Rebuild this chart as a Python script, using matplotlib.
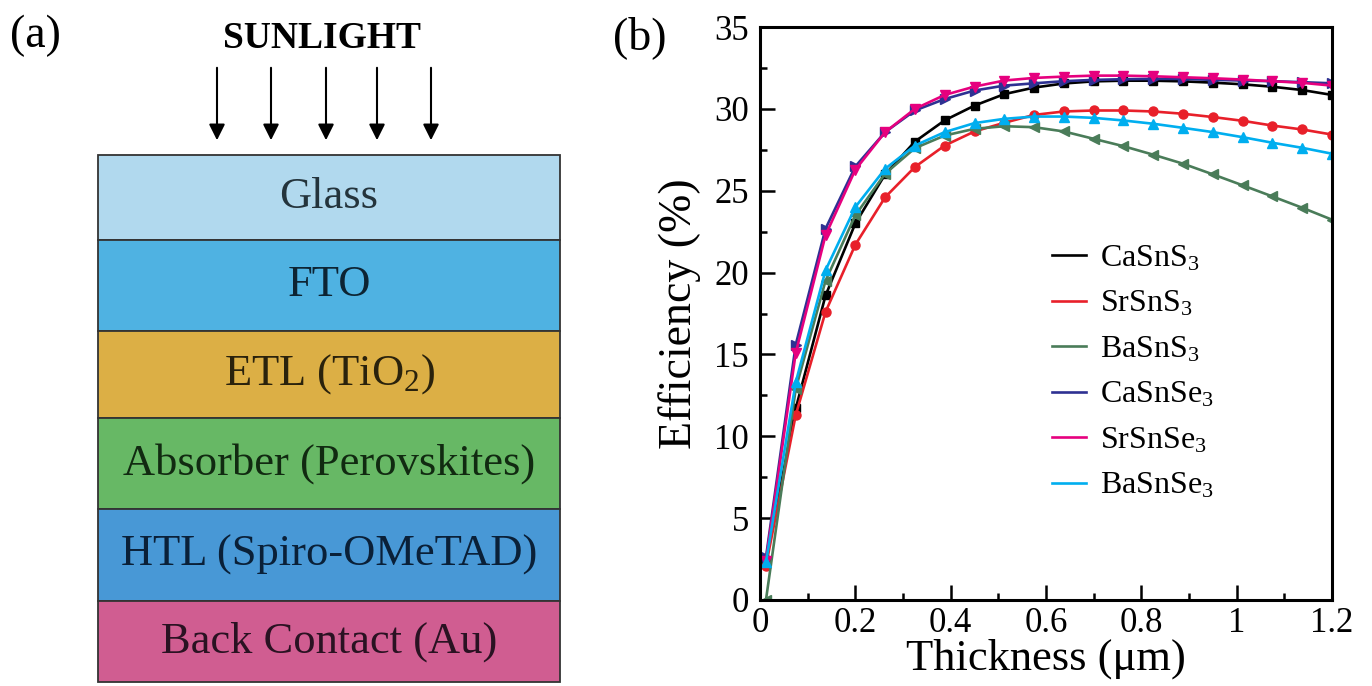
import matplotlib
matplotlib.use('Agg')
import matplotlib.pyplot as plt
from matplotlib.lines import Line2D
from matplotlib.patches import Rectangle

plt.rcParams['font.family'] = ['Liberation Serif', 'DejaVu Serif']
plt.rcParams['mathtext.fontset'] = 'custom'
plt.rcParams['mathtext.rm'] = 'Liberation Serif'
plt.rcParams['mathtext.it'] = 'Liberation Serif'

# --- panel (a): device stack ---
layer_names = ['Glass', 'FTO', r'ETL (TiO$_2$)', 'Absorber (Perovskites)',
               'HTL (Spiro-OMeTAD)', 'Back Contact (Au)']
layer_colors = ['#b1d9ee', '#4fb2e2', '#dcaf45', '#67b865', '#4898d6', '#d05d91']
layer_text_colors = ['#24343c', '#0d2433', '#2a220c', '#112a11', '#0a2038', '#2a1222']
layer_edges = [155, 240, 331, 418, 509, 601, 682]   # pixel rows
arrow_x = [217, 271, 326, 377, 431]

# --- panel (b): efficiency vs thickness ---
thickness = [0.0125, 0.075, 0.1375, 0.2, 0.2625, 0.325, 0.3875, 0.45, 0.5125, 0.575,
             0.6375, 0.7, 0.7625, 0.825, 0.8875, 0.95, 1.0125, 1.075, 1.1375, 1.2]
CaSnS3 = [2.4, 11.7, 18.6, 23.0, 26.0, 28.0, 29.3, 30.2, 30.9, 31.3,
          31.55, 31.68, 31.72, 31.72, 31.68, 31.6, 31.5, 31.35, 31.15, 30.85]
SrSnS3 = [2.1, 11.3, 17.6, 21.7, 24.6, 26.45, 27.76, 28.62, 29.15, 29.63,
          29.84, 29.9, 29.9, 29.84, 29.7, 29.5, 29.27, 28.98, 28.74, 28.43]
BaSnS3 = [0.0, 12.9, 19.5, 23.5, 26.04, 27.6, 28.37, 28.78, 28.94, 28.88,
          28.62, 28.17, 27.72, 27.2, 26.65, 26.0, 25.33, 24.65, 23.96, 23.23]
CaSnSe3 = [2.6, 15.6, 22.68, 26.48, 28.58, 29.9, 30.6, 31.12, 31.42, 31.56,
           31.69, 31.77, 31.81, 31.83, 31.83, 31.77, 31.73, 31.69, 31.63, 31.56]
SrSnSe3 = [2.4, 15.1, 22.28, 26.28, 28.58, 30.0, 30.85, 31.36, 31.73, 31.89,
           31.97, 32.03, 32.03, 31.99, 31.93, 31.87, 31.79, 31.69, 31.59, 31.42]
BaSnSe3 = [2.3, 13.3, 20.14, 24.0, 26.34, 27.76, 28.58, 29.13, 29.39, 29.53,
           29.53, 29.45, 29.29, 29.09, 28.84, 28.58, 28.27, 27.93, 27.62, 27.26]

series = [
    (r'CaSnS$_3$', CaSnS3, 'black', 's', 5.5),
    (r'SrSnS$_3$', SrSnS3, '#e8202a', 'o', 6.5),
    (r'BaSnS$_3$', BaSnS3, '#4a7c59', '<', 7),
    (r'CaSnSe$_3$', CaSnSe3, '#2e3192', '>', 7),
    (r'SrSnSe$_3$', SrSnSe3, '#e6007e', 'v', 7),
    (r'BaSnSe$_3$', BaSnSe3, '#00aeef', '^', 7),
]

fig = plt.figure(figsize=(13.72, 6.86), dpi=100)

# panel (a) drawn in pixel coordinates
axa = fig.add_axes([0, 0, 0.5, 1])
axa.set_xlim(0, 686)
axa.set_ylim(686, 0)
axa.axis('off')
box_left, box_right = 98, 560
for i, name in enumerate(layer_names):
    top, bot = layer_edges[i], layer_edges[i + 1]
    axa.add_patch(Rectangle((box_left, top), box_right - box_left, bot - top,
                            facecolor=layer_colors[i], edgecolor='#333333', lw=1.3))
    axa.text((box_left + box_right) / 2, (top + bot) / 2, name, ha='center', va='center',
             fontsize=32, color=layer_text_colors[i])
for x in arrow_x:
    axa.annotate('', xy=(x, 143), xytext=(x, 65),
                 arrowprops=dict(arrowstyle='-|>', lw=1.5, color='black', mutation_scale=24))
axa.text(322, 38, 'SUNLIGHT', ha='center', va='center', fontsize=27, fontweight='bold')
axa.text(35, 36, '(a)', ha='center', va='center', fontsize=33)

# panel (b)
ax = fig.add_axes([760 / 1372, 1 - 600 / 686, 572 / 1372, 573 / 686])
for label, vals, color, marker, ms in series:
    ax.plot(thickness, vals, color=color, lw=1.9, marker=marker, markersize=ms,
            markeredgecolor=color, markerfacecolor=color)

ax.set_xlim(0, 1.2)
ax.set_ylim(0, 35)
ax.set_xticks([0, 0.2, 0.4, 0.6, 0.8, 1.0, 1.2])
ax.set_xticklabels(['0', '0.2', '0.4', '0.6', '0.8', '1', '1.2'])
ax.set_xticks([0.1, 0.3, 0.5, 0.7, 0.9, 1.1], minor=True)
ax.set_yticks([0, 5, 10, 15, 20, 25, 30, 35])
ax.set_yticks([2.5, 7.5, 12.5, 17.5, 22.5, 27.5, 32.5], minor=True)
ax.tick_params(which='both', direction='in', top=False, right=False, width=1.8,
               labelsize=25)
ax.tick_params(which='major', length=11)
ax.tick_params(which='minor', length=5)
ax.tick_params(axis='y', pad=8)
ax.tick_params(axis='x', pad=5)
for sp in ax.spines.values():
    sp.set_linewidth(2.2)

ax.set_xlabel('Thickness (μm)', fontsize=32, va='center')
ax.set_ylabel('Efficiency (%)', fontsize=33, va='center')
ax.xaxis.set_label_coords(0.5, -0.102)
ax.yaxis.set_label_coords(-0.14, 0.5)

handles = [Line2D([0], [0], color=c, lw=1.9) for _, _, c, _, _ in series]
labels = [s[0] for s in series]
ax.legend(handles, labels, loc='upper left', bbox_to_anchor=(1052 / 1372, 1 - 244 / 686),
          bbox_transform=fig.transFigure, frameon=False, fontsize=23,
          handlelength=1.05, handletextpad=0.45, labelspacing=0.5, borderpad=0,
          borderaxespad=0)

fig.text(640 / 1372, 1 - 38 / 686, '(b)', ha='center', va='center', fontsize=33)

plt.savefig('out.png', dpi=100)
